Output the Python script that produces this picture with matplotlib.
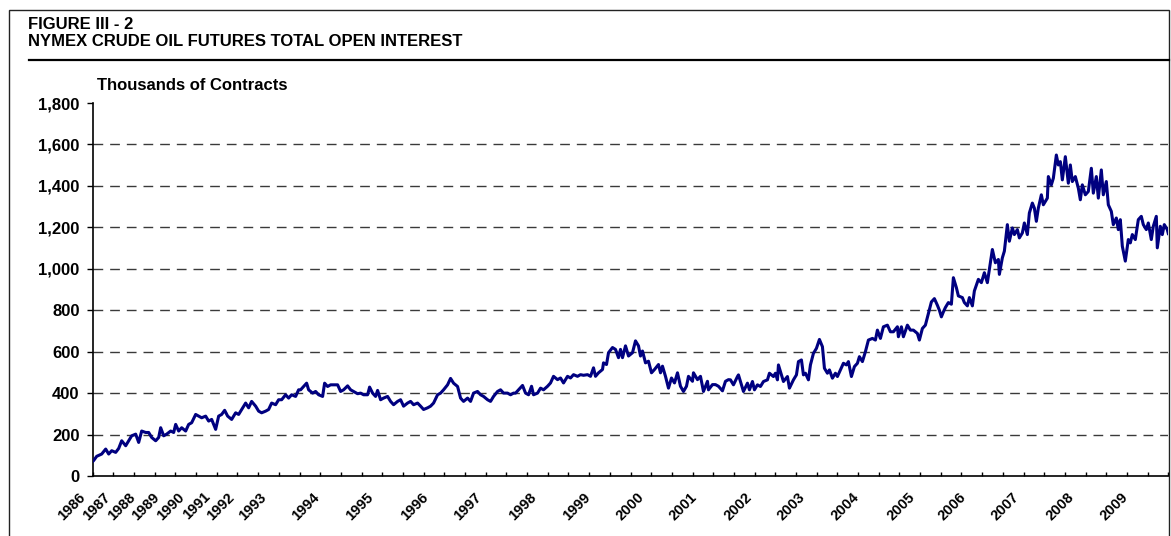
import matplotlib
matplotlib.use("Agg")
import matplotlib.pyplot as plt
import matplotlib.transforms as mtrans
from matplotlib.patches import Rectangle
from matplotlib.lines import Line2D
from matplotlib.ticker import FuncFormatter
import numpy as np

# weekly observations (index along the category axis) and open interest, thousands of contracts
week = [0, 1, 4, 9, 13, 16, 19, 23, 26, 29, 33, 36, 39, 43, 46, 49, 53, 56, 59, 63,
        66, 68, 71, 74, 78, 81, 83, 86, 89, 93, 96, 99, 103, 106, 109, 113, 116, 119, 123, 126,
        129, 132, 135, 139, 143, 146, 149, 153, 156, 159, 163, 166, 169, 173, 176, 179, 183, 186, 189, 193,
        196, 199, 203, 206,
        208, 211, 214, 216, 220, 223, 226, 230, 232, 235, 238, 241, 245, 248, 251, 255, 258, 261, 265, 268,
        271, 275, 277, 280, 283, 285, 288, 291, 295, 298, 301, 305, 308, 311, 315, 318, 321, 325, 328, 331,
        335, 338, 341, 345, 348, 351, 355, 358, 361, 365, 368, 371, 375, 378, 381, 385, 388, 391, 395, 398,
        401, 405, 408, 411, 415, 418, 421,
        423, 426, 430, 433, 436, 439, 441, 445, 448, 451, 455, 458, 461, 465, 468, 471, 475, 478, 481, 485,
        488, 491, 495, 498, 501, 503, 506, 510, 511, 514, 516, 520, 523, 526, 528, 530, 533, 536, 540, 543,
        546, 548, 550, 553, 556, 559, 562, 566, 568, 570, 573, 576, 579, 582, 585, 588, 591, 594, 596, 600,
        601, 605, 608, 611, 615, 616, 620, 623, 626, 630, 633, 636,
        638, 641, 645, 646, 649, 651, 655, 657, 660, 662, 665, 668, 671, 675, 677, 681, 683, 685, 686, 689,
        691, 695, 697, 701, 704, 706, 709, 711, 713, 716, 718, 721, 724, 727, 730, 732, 735, 737, 740, 743,
        745, 748, 751, 754, 756, 759, 762, 765, 767, 770, 773, 776, 780, 783, 785, 788, 791, 795, 798, 801,
        805, 806, 809, 811, 815, 818, 821, 825, 827, 830, 833, 836, 839, 842, 845, 847, 849, 851,
        853, 856, 859, 861, 864, 866, 870, 872, 875, 877, 880, 882, 886, 889, 892, 895, 897, 900, 903, 906,
        907, 910, 912, 915, 917, 920, 922, 925, 927, 930, 932, 935, 937, 940, 942, 944, 946, 949, 951, 955,
        956, 959, 961, 964, 966, 968, 970, 973, 976, 978, 980, 983, 986, 988, 990, 993, 996, 999, 1001, 1004,
        1006, 1009, 1011, 1014, 1016, 1019, 1021, 1024, 1026, 1028, 1030, 1033, 1036, 1038, 1040, 1043, 1046, 1049, 1051, 1054,
        1056, 1059, 1061, 1064, 1065, 1068, 1070, 1072, 1075, 1076]

oi = [70, 75, 95, 106, 130, 106, 122, 114, 133, 170, 146, 170, 194, 202, 162, 217, 210, 210, 186, 170,
      186, 233, 194, 202, 217, 210, 249, 217, 233, 217, 249, 257, 297, 289, 281, 289, 265, 273, 225, 289,
      297, 317, 289, 273, 305, 297, 321, 352, 329, 360, 337, 313, 305, 313, 321, 352, 344, 368, 368, 392,
      376, 392, 384, 416,
      416, 432, 448, 416, 400, 408, 392, 384, 448, 432, 440, 440, 440, 408, 416, 435, 416, 408, 397, 400,
      392, 392, 429, 400, 384, 413, 368, 376, 384, 360, 344, 360, 368, 337, 352, 360, 344, 352, 337, 321,
      329, 337, 352, 392, 400, 416, 440, 471, 448, 432, 376, 360, 376, 360, 400, 408, 392, 384, 368, 360,
      384, 408, 416, 400, 400, 392, 400,
      400, 416, 437, 400, 392, 433, 392, 400, 424, 416, 433, 449, 481, 465, 473, 449, 481, 473, 489, 481,
      489, 486, 489, 481, 522, 481, 498, 514, 546, 538, 595, 620, 611, 571, 611, 571, 628, 579, 595, 652,
      628, 579, 603, 546, 554, 498, 514, 538, 498, 530, 481, 424, 473, 449, 498, 433, 408, 433, 481, 457,
      498, 465, 481, 408, 457, 416, 441, 441, 433, 411, 457, 465,
      464, 440, 480, 488, 440, 408, 448, 416, 456, 416, 440, 432, 456, 464, 496, 480, 496, 464, 536, 488,
      456, 480, 424, 464, 488, 552, 560, 488, 496, 464, 536, 592, 616, 659, 624, 520, 496, 512, 472, 496,
      480, 512, 544, 536, 552, 480, 528, 544, 576, 552, 600, 656, 664, 656, 704, 664, 720, 728, 696, 696,
      720, 672, 720, 672, 728, 704, 704, 688, 656, 712, 728, 784, 840, 856, 824, 800, 768, 792,
      813, 837, 829, 957, 909, 869, 861, 837, 821, 861, 821, 893, 949, 933, 981, 933, 997, 1093, 1029, 1045,
      973, 1053, 1085, 1213, 1133, 1197, 1165, 1189, 1149, 1173, 1221, 1165, 1269, 1317, 1293, 1229, 1293, 1357, 1309, 1341,
      1445, 1405, 1437, 1549, 1501, 1517, 1429, 1541, 1413, 1501, 1421, 1445, 1389, 1333, 1405, 1357, 1373, 1485, 1365, 1445,
      1341, 1477, 1357, 1421, 1309, 1277, 1213, 1245, 1189, 1237, 1109, 1037, 1141, 1125, 1165, 1141, 1237, 1253, 1213, 1189,
      1221, 1141, 1205, 1253, 1101, 1205, 1165, 1213, 1189, 1170]

assert len(week) == len(oi)

years = ['1986', '1987', '1988', '1989', '1990', '1991', '1992', '1993', '1994', '1995', '1996', '1997',
         '1998', '1999', '2000', '2001', '2002', '2003', '2004', '2005', '2006', '2007', '2008', '2009']
year_start = [0, 25, 50, 74, 99, 124, 149, 181, 234, 288, 343, 396,
              451, 505, 558, 611, 666, 719, 774, 829, 881, 934, 989, 1043]
n_weeks = 1076
n_tick_marks = 52

plt.rcParams['font.family'] = ['Liberation Sans', 'DejaVu Sans']
plt.rcParams['font.weight'] = 'bold'

W, H = 1171, 536
fig = plt.figure(figsize=(W / 100, H / 100), dpi=100)
ax = fig.add_axes([92.7 / W, (H - 476) / H, 1075.6 / W, 373 / H])

for v in range(200, 1800, 200):
    ax.axhline(v, color='#3a3a3a', lw=1.0, dashes=(7, 5), zorder=1)

ax.plot(week, oi, color='#000080', lw=2.2, solid_joinstyle='round', zorder=3)

ax.set_xlim(0, n_weeks)
ax.set_ylim(0, 1800)
ax.set_yticks(range(0, 1801, 200))
ax.yaxis.set_major_formatter(FuncFormatter(lambda v, p: f'{int(v):,}'))
ax.tick_params(axis='y', direction='out', length=4.5, width=1, labelsize=12, pad=5, colors='black')

ax.xaxis.remove_overlapping_locs = False
ax.set_xticks(np.linspace(0, n_weeks, n_tick_marks + 1))
ax.set_xticklabels([])
ax.tick_params(axis='x', which='major', direction='in', length=3, width=1, color='black')
ax.set_xticks(year_start, minor=True)
ax.set_xticklabels(years, minor=True)
ax.tick_params(axis='x', which='minor', length=0, labelsize=10.5, pad=10)
shift = mtrans.ScaledTranslation(-14 / 100, 0, fig.dpi_scale_trans)
for lab in ax.get_xticklabels(minor=True):
    lab.set_rotation(45)
    lab.set_ha('right')
    lab.set_rotation_mode('anchor')
    lab.set_transform(lab.get_transform() + shift)

for s in ['top', 'right']:
    ax.spines[s].set_visible(False)
for s in ['left', 'bottom']:
    ax.spines[s].set_color('black')
    ax.spines[s].set_linewidth(1.2)

# page furniture
fig.text(28 / W, 1 - 29 / H, 'FIGURE III - 2', fontsize=12, fontweight='bold', va='baseline')
fig.text(28 / W, 1 - 46 / H, 'NYMEX CRUDE OIL FUTURES TOTAL OPEN INTEREST', fontsize=12,
         fontweight='bold', va='baseline')
fig.add_artist(Line2D([29 / W, 1169 / W], [1 - 59.5 / H] * 2, color='black', lw=1.6))
fig.text(97 / W, 1 - 90 / H, 'Thousands of Contracts', fontsize=12, fontweight='bold', va='baseline')
fig.add_artist(Rectangle((9 / W, -0.2), 1160 / W, 1.2 - 10 / H, transform=fig.transFigure,
                         fill=False, ec='#222222', lw=1.0))

fig.savefig('out.png', dpi=100)
